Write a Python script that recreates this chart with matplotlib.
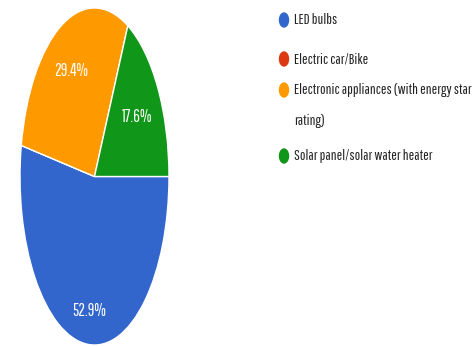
import matplotlib.pyplot as plt
from matplotlib.patches import Ellipse
from matplotlib import font_manager
import numpy as np

# answers to the survey question
categories = ["LED bulbs", "Electric car/Bike",
              "Electronic appliances (with energy star\nrating)",
              "Solar panel/solar water heater"]
shares = [52.9, 0.0, 29.4, 17.6]
colors = ["#3366cc", "#dc3912", "#ff9900", "#109618"]

# pick a narrow sans face
names = {f.name for f in font_manager.fontManager.ttflist}
for font in ["Pathway Gothic One", "Sofia Sans Extra Condensed", "Liberation Sans"]:
    if font in names:
        break
plt.rcParams["font.family"] = [font, "DejaVu Sans"]

W, H = 477, 346
fig = plt.figure(figsize=(W / 100, H / 100), dpi=100)

# pie axes, stretched tall (aspect left on auto)
ax = fig.add_axes([20 / W, 1 / H, 149 / W, 337 / H])
wedges, _ = ax.pie(shares, colors=colors, startangle=0, counterclock=False,
                   wedgeprops=dict(edgecolor="white", linewidth=1.0))
ax.set_aspect("auto")
ax.set_xlim(-1, 1)
ax.set_ylim(-1, 1)

label_r = [0.8, 0.0, 0.7, 0.67]
for w, val, r in zip(wedges, shares, label_r):
    if val == 0:
        continue
    mid = np.deg2rad((w.theta1 + w.theta2) / 2)
    ax.text(r * np.cos(mid), r * np.sin(mid), f"{val:.1f}%",
            ha="center", va="center", color="white", fontsize=12)

# legend drawn by hand in pixel coordinates
lg = fig.add_axes([0, 0, 1, 1])
lg.set_xlim(0, W)
lg.set_ylim(H, 0)
lg.axis("off")

rows = [20, 59, 90, 156]
for y, name, c in zip(rows, categories, colors):
    lg.add_patch(Ellipse((284, y), 9, 14, color=c))
    for k, line in enumerate(name.split("\n")):
        lg.text(294, y + k * 31, line, ha="left", va="center",
                fontsize=10.6, color="#222222")

fig.savefig("out.png", dpi=100)
